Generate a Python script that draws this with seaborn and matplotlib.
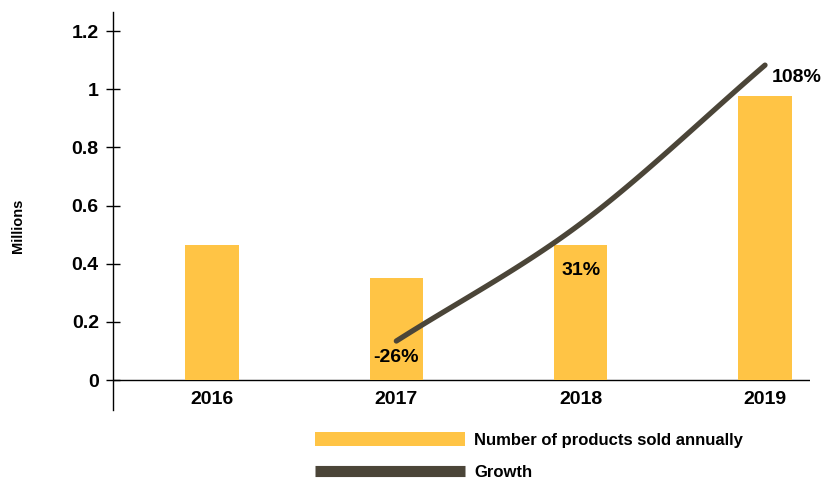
import numpy as np
import pandas as pd
import matplotlib
matplotlib.use("Agg")
import matplotlib.pyplot as plt
import seaborn as sns
from matplotlib.patches import Patch
from matplotlib.lines import Line2D

years = ["2016", "2017", "2018", "2019"]
products_millions = [0.465, 0.35, 0.465, 0.975]
growth_years = ["2017", "2018", "2019"]
growth_pct = [-26, 31, 108]
growth_labels = ["-26%", "31%", "108%"]
yticks = [0, 0.2, 0.4, 0.6, 0.8, 1.0, 1.2]
ytick_labels = ["0", "0.2", "0.4", "0.6", "0.8", "1", "1.2"]

YELLOW = "#FFC445"
DARK = "#4B4538"

sns.set_style("white")
plt.rcParams["font.family"] = ["Liberation Sans", "DejaVu Sans"]
plt.rcParams["font.weight"] = "bold"
plt.rcParams["text.color"] = "black"
plt.rcParams["xtick.color"] = "black"
plt.rcParams["ytick.color"] = "black"

fig = plt.figure(figsize=(8.23, 4.79), dpi=100)
ax = fig.add_axes([113/823, 1-410/479, (810-113)/823, (410-12)/479])

df = pd.DataFrame({"year": years, "value": products_millions})
sns.barplot(data=df, x="year", y="value", order=years, color=YELLOW,
            saturation=1, width=0.29, linewidth=0, edgecolor="none", ax=ax, zorder=2)

ax.set_xlim(-0.537, 3.244)
ax.set_ylim(-0.103, 1.2655)

# secondary (hidden) axis for growth, in percent
ax2 = ax.twinx()
ax2.set_axis_off()

# smooth growth curve (Catmull-Rom through data points)
gx = np.array([years.index(y) for y in growth_years], dtype=float)
gy = np.array(growth_pct, dtype=float)
px = np.concatenate([[2*gx[0]-gx[1]], gx, [2*gx[-1]-gx[-2]]])
py = np.concatenate([[2*gy[0]-gy[1]], gy, [2*gy[-1]-gy[-2]]])
cx, cy = [], []
t = np.linspace(0, 1, 60)
for i in range(1, len(px)-2):
    p0x, p1x, p2x, p3x = px[i-1:i+3]
    p0y, p1y, p2y, p3y = py[i-1:i+3]
    bx = 0.5*((2*p1x) + (-p0x+p2x)*t + (2*p0x-5*p1x+4*p2x-p3x)*t**2 + (-p0x+3*p1x-3*p2x+p3x)*t**3)
    by = 0.5*((2*p1y) + (-p0y+p2y)*t + (2*p0y-5*p1y+4*p2y-p3y)*t**2 + (-p0y+3*p1y-3*p2y+p3y)*t**3)
    cx.extend(bx); cy.extend(by)
sns.lineplot(x=cx, y=cy, sort=False, color=DARK, lw=3.8, ax=ax2, zorder=3)
ax2.set_xlim(-0.537, 3.244)
ax2.set_ylim(-59.5, 133.8)

# growth labels (offsets in pixels -> points)
offsets = [(0, -16, "center"), (0, -47, "center"), (7, -12, "left")]
for xi, yi, lab, (dx, dy, ha) in zip(gx, gy, growth_labels, offsets):
    ax2.annotate(lab, (xi, yi), xytext=(dx*0.72, dy*0.72), textcoords="offset points",
                 ha=ha, va="center", fontsize=14, fontweight="bold", color="black", zorder=4)

ax.axhline(0, color="black", lw=1.0, zorder=1)

ax.set_yticks(yticks)
ax.set_yticklabels(ytick_labels, fontsize=14, fontweight="bold")
ax.tick_params(axis="y", direction="inout", length=9.5, width=1, color="black", pad=5.5, left=True)
ax.tick_params(axis="x", length=0, pad=-14, labelsize=14)
for lab in ax.get_xticklabels():
    lab.set_fontweight("bold")
ax.set_xlabel("")
ax.set_ylabel("")

for s in ["top", "right", "bottom"]:
    ax.spines[s].set_visible(False)
ax.spines["left"].set_color("black")
ax.spines["left"].set_linewidth(1.0)

fig.text(18/823, 1-226/479, "Millions", rotation=90, ha="center", va="center",
         fontsize=10.5, fontweight="bold")

handles = [Patch(facecolor=YELLOW, edgecolor="none"),
           Line2D([0], [0], color=DARK, lw=8, solid_capstyle="butt")]
leg = fig.legend(handles, ["Number of products sold annually", "Growth"],
                 loc="upper left", bbox_to_anchor=(315/823, 1-432/479),
                 frameon=False, handlelength=9.0, borderpad=0, borderaxespad=0,
                 handleheight=0.9, labelspacing=1.0, handletextpad=0.55,
                 prop={"weight": "bold", "size": 12})

fig.savefig("out.png", dpi=100)
